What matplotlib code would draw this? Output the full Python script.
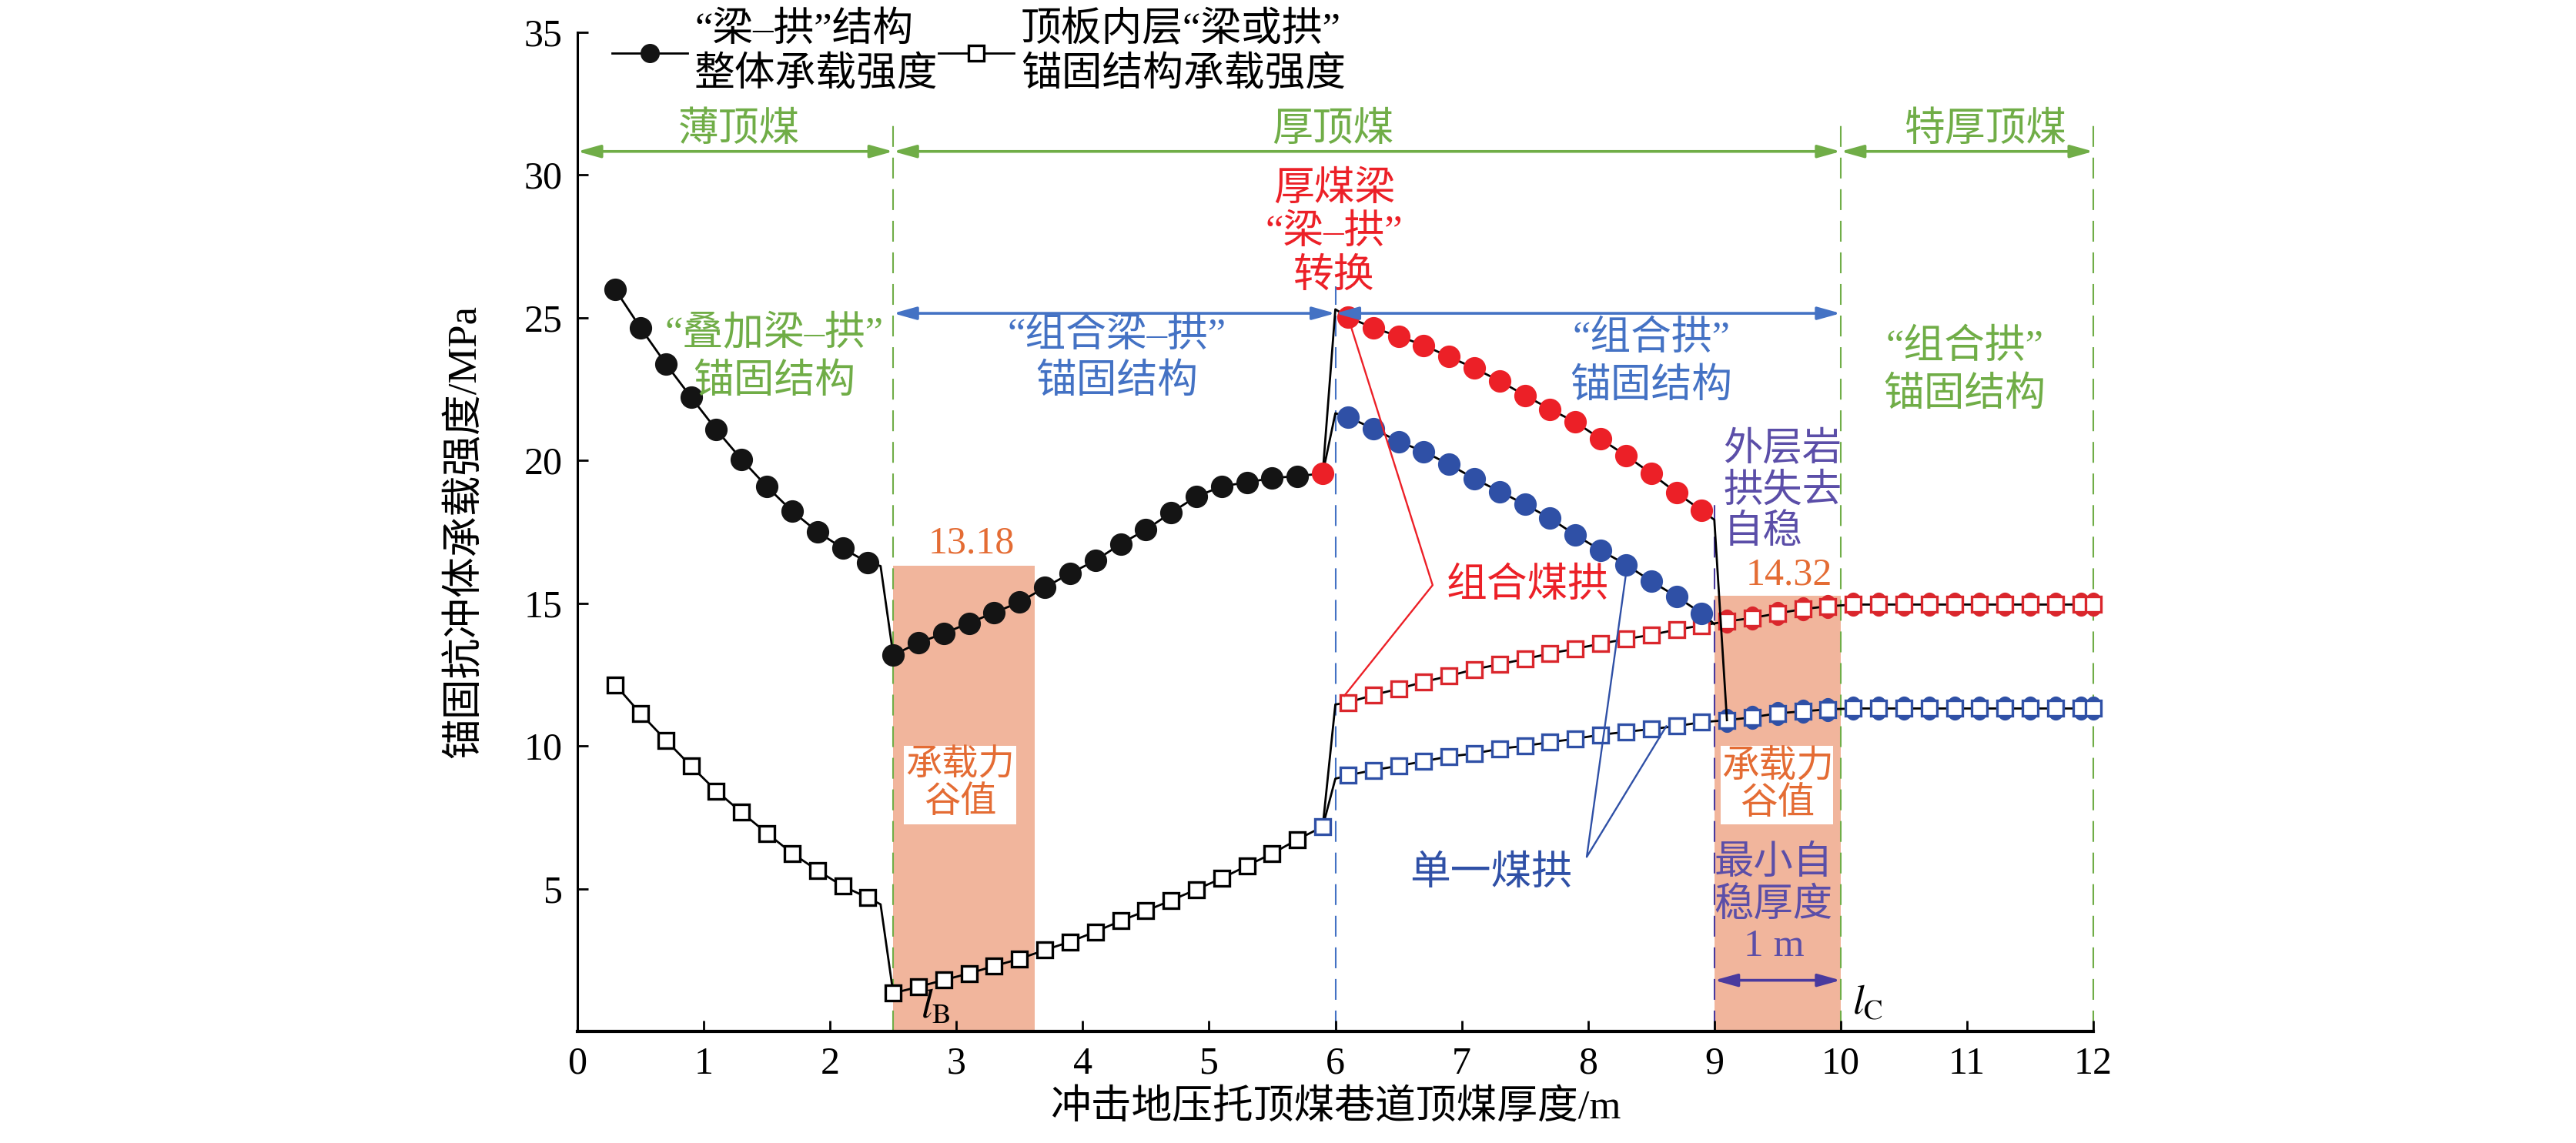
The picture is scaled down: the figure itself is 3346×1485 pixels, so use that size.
import numpy as np
import matplotlib
matplotlib.use("Agg")
import matplotlib.pyplot as plt
from matplotlib.lines import Line2D
from matplotlib.patches import Rectangle
from matplotlib.path import Path

plt.rcParams['font.family'] = ['Liberation Serif', 'Noto Sans CJK SC']
plt.rcParams['mathtext.fontset'] = 'stix'

# ---------------- data ----------------
x_thin = [0.3, 0.5, 0.7, 0.9, 1.1, 1.3, 1.5, 1.7, 1.9, 2.1, 2.3]
x_mid = [2.5, 2.7, 2.9, 3.1, 3.3, 3.5, 3.7, 3.9, 4.1, 4.3, 4.5, 4.7, 4.9, 5.1, 5.3, 5.5, 5.7]
x_jump = 5.9
x_arch = [6.1, 6.3, 6.5, 6.7, 6.9, 7.1, 7.3, 7.5, 7.7, 7.9, 8.1, 8.3, 8.5, 8.7, 8.9]
x_far = [9.1, 9.3, 9.5, 9.7, 9.9, 10.1, 10.3, 10.5, 10.7, 10.9, 11.1, 11.3, 11.5, 11.7, 11.9, 12.0]

# overall "beam-arch" strength (circles)
circ_thin = [25.98, 24.64, 23.38, 22.21, 21.07, 20.03, 19.08, 18.22, 17.50, 16.92, 16.42]
circ_mid = [13.18, 13.61, 13.94, 14.30, 14.67, 15.03, 15.55, 16.04, 16.49, 17.07, 17.57,
            18.17, 18.73, 19.09, 19.23, 19.38, 19.45]
circ_jump = 19.54
circ_red = [25.02, 24.64, 24.35, 24.03, 23.63, 23.23, 22.78, 22.28, 21.79, 21.34, 20.75,
            20.17, 19.54, 18.87, 18.24]
circ_blue = [21.52, 21.11, 20.66, 20.31, 19.86, 19.36, 18.91, 18.46, 17.97, 17.39, 16.85,
             16.35, 15.77, 15.23, 14.64]
# transition points (no markers)
circ_kink = (2.4, 16.30)
circ_red_top = (6.0, 25.29)
circ_blue_top = (6.0, 21.65)
circ_red_end = (9.0, 17.92)
circ_blue_end = (9.0, 14.27)

# inner layer anchor strength (squares)
sq_thin = [12.14, 11.13, 10.20, 9.29, 8.42, 7.67, 6.94, 6.24, 5.64, 5.09, 4.68]
sq_mid = [1.34, 1.56, 1.80, 2.03, 2.29, 2.54, 2.85, 3.14, 3.49, 3.87, 4.22, 4.59, 4.97,
          5.36, 5.80, 6.23, 6.72]
sq_jump = 7.17
sq_red = [11.52, 11.78, 12.00, 12.24, 12.45, 12.68, 12.86, 13.04, 13.24, 13.40, 13.58,
          13.74, 13.89, 14.07, 14.22,
          14.36, 14.48, 14.64, 14.79, 14.89, 14.95, 14.95, 14.95, 14.95, 14.95, 14.95,
          14.95, 14.95, 14.95, 14.95, 14.95]
sq_blue = [8.97, 9.15, 9.30, 9.46, 9.63, 9.73, 9.90, 10.00, 10.13, 10.25, 10.39, 10.49,
           10.59, 10.69, 10.83,
           10.90, 11.00, 11.14, 11.21, 11.28, 11.31, 11.31, 11.31, 11.31, 11.31, 11.31,
           11.31, 11.31, 11.31, 11.31, 11.31]
sq_kink = (2.4, 4.45)
sq_red_start = (6.0, 11.45)
sq_blue_start = (6.0, 8.85)

valley1 = "13.18"
valley2 = "14.32"

# ---------------- colours ----------------
GREEN = '#70AD47'
BLUE_T = '#4472C4'
BLUE_D = '#2F50A6'
RED = '#EC2027'
RED_SQ = '#DA262C'
ORANGE = '#E46C34'
PURPLE = '#5B4EA8'
PURPLE_D = '#4A3A9E'
SHADE = '#F1B59C'

fig = plt.figure(figsize=(33.46, 14.85), dpi=100)
ax = fig.add_axes([750 / 3346, 1 - 1340 / 1485, 1969 / 3346, (1340 - 41.7) / 1485])
ax.set_xlim(0, 12)
ax.set_ylim(0, 35)

FS = 38
CMS = 20.0   # circle marker size
SMS = 14.8   # square marker size
SEW = 2.4
LW = 2.0

# shaded valleys
ax.add_patch(Rectangle((2.5, 0), 1.12, 16.30, facecolor=SHADE, edgecolor='none', zorder=0.5))
ax.add_patch(Rectangle((9.0, 0), 1.0, 15.27, facecolor=SHADE, edgecolor='none', zorder=0.5))
ax.add_patch(Rectangle((2.584, 7.26), 0.887, 2.73, facecolor='white', edgecolor='none', zorder=0.6))
ax.add_patch(Rectangle((9.052, 7.26), 0.89, 2.73, facecolor='white', edgecolor='none', zorder=0.6))

# dashed verticals
dash = (13, 6.7)
for xv, top, c in [(2.5, 32.05, GREEN), (10.0, 32.05, GREEN), (12.0, 32.05, GREEN),
                   (6.0, 26.1, BLUE_T), (9.0, 18.6, PURPLE_D)]:
    ax.plot([xv, xv], [0, top], color=c, lw=1.5, dashes=dash, zorder=1, clip_on=False)

# ---------- squares (inner layer) ----------
xs_black = x_thin + [sq_kink[0]] + x_mid + [x_jump]
ys_black = sq_thin + [sq_kink[1]] + sq_mid + [sq_jump]
mk = [i for i in range(len(xs_black)) if i != len(x_thin) and i != len(xs_black) - 1]
ax.plot(xs_black, ys_black, color='k', lw=LW, marker='s', ms=SMS, mfc='white', mec='k',
        mew=SEW, markevery=mk, zorder=4)
ax.plot([x_jump], [sq_jump], ls='none', marker='s', ms=SMS, mfc='white', mec=BLUE_D,
        mew=SEW, zorder=4.2)

x_sq_right = x_arch + x_far
th = np.linspace(0, 2 * np.pi, 40)
ell = Path(np.column_stack([0.36 * np.cos(th), 0.5 * np.sin(th)]), closed=False)
for start, vals, ec in [(sq_red_start, sq_red, RED_SQ), (sq_blue_start, sq_blue, BLUE_D)]:
    xs = [x_jump, start[0]] + x_sq_right
    ys = [sq_jump, start[1]] + vals
    ax.plot(xs, ys, color='k', lw=LW, zorder=3, clip_on=False)
    # ellipse-like circles hidden behind squares beyond 9 m
    n_far = len(x_far)
    ax.plot(x_far, vals[-n_far:], ls='none', marker=ell, ms=21.5,
            mfc=ec, mec=ec, zorder=3.5, clip_on=False)
    ax.plot(x_sq_right, vals, ls='none', marker='s', ms=SMS, mfc='white', mec=ec,
            mew=SEW, zorder=4, clip_on=False)

# ---------- circles (overall) ----------
xs_all = (x_thin + [circ_kink[0]] + x_mid + [x_jump] + [circ_red_top[0]] + x_arch +
          [circ_red_end[0], x_far[0]])
ys_all = (circ_thin + [circ_kink[1]] + circ_mid + [circ_jump] + [circ_red_top[1]] + circ_red +
          [circ_red_end[1], sq_blue[len(x_arch)]])
ax.plot(xs_all, ys_all, color='k', lw=LW, zorder=5)
ax.plot(x_thin + x_mid, circ_thin + circ_mid, ls='none', marker='o', ms=CMS,
        mfc='#141414', mec='#141414', zorder=6)
ax.plot([x_jump] + x_arch, [circ_jump] + circ_red, ls='none', marker='o', ms=CMS,
        mfc=RED, mec=RED, zorder=6)
xb = [x_jump, circ_blue_top[0]] + x_arch + [circ_blue_end[0]]
yb = [circ_jump, circ_blue_top[1]] + circ_blue + [circ_blue_end[1]]
ax.plot(xb, yb, color='k', lw=LW, zorder=5)
ax.plot(x_arch, circ_blue, ls='none', marker='o', ms=CMS, mfc=BLUE_D, mec=BLUE_D, zorder=6)

# ---------- arrows ----------
def darrow(x1, x2, y, c, lw=2.6):
    ax.annotate('', xy=(x2, y), xytext=(x1, y), annotation_clip=False,
                arrowprops=dict(arrowstyle='<|-|>,head_length=18,head_width=5',
                                color=c, lw=lw, shrinkA=0, shrinkB=0, mutation_scale=1),
                zorder=7)

darrow(0.0, 2.5, 30.82, GREEN)
darrow(2.5, 10.0, 30.82, GREEN)
darrow(10.0, 12.0, 30.82, GREEN)
darrow(2.5, 6.0, 25.15, BLUE_T)
darrow(6.0, 10.0, 25.15, BLUE_T)
darrow(9.0, 10.0, 1.79, PURPLE_D)

# ---------- callout lines ----------
ax.plot([6.10, 6.77, 6.07], [25.02, 15.63, 11.75], color=RED, lw=1.7, zorder=6.5)
ax.plot([8.30, 7.99, 8.62], [16.0, 6.11, 10.69], color=BLUE_D, lw=1.7, zorder=6.5)

# ---------- texts ----------
kw = dict(ha='center', va='center', fontsize=FS, zorder=8)
ax.text(1.277, 31.56, '薄顶煤', color=GREEN, **kw)
ax.text(5.98, 31.56, '厚顶煤', color=GREEN, **kw)
ax.text(11.15, 31.56, '特厚顶煤', color=GREEN, **kw)
ax.text(1.56, 23.58, '“叠加梁–拱”\n锚固结构', color=GREEN, linespacing=1.35, **kw)
ax.text(4.27, 23.53, '“组合梁–拱”\n锚固结构', color=BLUE_T, linespacing=1.3, **kw)
ax.text(8.50, 23.40, '“组合拱”\n锚固结构', color=BLUE_T, linespacing=1.35, **kw)
ax.text(10.98, 23.10, '“组合拱”\n锚固结构', color=GREEN, linespacing=1.35, **kw)
ax.text(5.99, 27.96, '厚煤梁\n“梁–拱”\n转换', color=RED, linespacing=1.22, **kw)
ax.text(9.07, 18.9, '外层岩\n拱失去\n自稳', color=PURPLE, ha='left', va='center',
        fontsize=37, linespacing=1.16, multialignment='left', zorder=8)
ax.text(9.59, 15.98, valley2, color=ORANGE, ha='center', va='center', fontsize=36, zorder=8)
ax.text(3.12, 17.09, valley1, color=ORANGE, ha='center', va='center', fontsize=36, zorder=8)
ax.text(3.03, 8.63, '承载力\n谷值', color=ORANGE, ha='center', va='center', fontsize=34,
        linespacing=1.12, zorder=8)
ax.text(9.50, 8.63, '承载力\n谷值', color=ORANGE, ha='center', va='center', fontsize=35,
        linespacing=1.12, zorder=8)
ax.text(9.47, 4.42, '最小自\n稳厚度\n1 m', color=PURPLE, ha='center', va='center',
        fontsize=37, linespacing=1.18, zorder=8)
ax.text(6.88, 15.6, '组合煤拱', color=RED, ha='left', va='center', fontsize=FS, zorder=8)
ax.text(7.23, 5.51, '单一煤拱', color=BLUE_D, ha='center', va='center', fontsize=FS, zorder=8)
ax.text(10.09, 0.62, r'$l_{\mathrm{C}}$', color='k', ha='left', va='baseline', fontsize=38, zorder=8)
ax.text(2.72, 0.46, r'$l_{\mathrm{B}}$', color='k', ha='left', va='baseline', fontsize=38, zorder=8)

# ---------- axes styling ----------
for s in ['top', 'right']:
    ax.spines[s].set_visible(False)
ax.spines['left'].set_linewidth(2.2)
ax.spines['bottom'].set_linewidth(3.0)
ax.set_xticks(range(0, 13))
ax.set_yticks(range(5, 36, 5))
ax.tick_params(direction='in', length=10, width=2, labelsize=36, pad=14)
ax.set_xlabel('冲击地压托顶煤巷道顶煤厚度/m', fontsize=FS)
ax.set_ylabel('锚固抗冲体承载强度/MPa', fontsize=FS)
ax.xaxis.set_label_coords(0.5, -0.058)
ax.yaxis.set_label_coords(-0.0615, 0.5)

# ---------- legend ----------
h1 = Line2D([], [], color='k', lw=LW, marker='o', ms=17, mfc='#141414', mec='#141414')
h2 = Line2D([], [], color='k', lw=LW, marker='s', ms=SMS, mfc='white', mec='k', mew=SEW)
leg = ax.legend([h1, h2], ['“梁–拱”结构\n整体承载强度', '顶板内层“梁或拱”\n锚固结构承载强度'],
                loc='upper left', bbox_to_anchor=(0.023, 1.021), ncol=2, frameon=False,
                fontsize=FS, handlelength=1.86, handletextpad=0.17, columnspacing=0.0,
                borderpad=0, borderaxespad=0)
for t in leg.get_texts():
    t.set_linespacing(1.25)

fig.savefig('out.png', dpi=100)
